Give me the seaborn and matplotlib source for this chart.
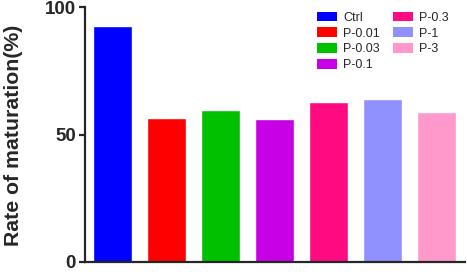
import matplotlib
matplotlib.use("Agg")
import matplotlib.pyplot as plt
import seaborn as sns
import pandas as pd
from matplotlib.patches import Patch

categories = ["Ctrl", "P-0.01", "P-0.03", "P-0.1", "P-0.3", "P-1", "P-3"]
values = [92.5, 56.4, 59.6, 56.1, 62.9, 63.9, 58.7]
colors = ["#0000FF", "#FF0000", "#00C000", "#C800E6", "#FF0A80", "#9090FF", "#FF99CC"]
yticks = [0, 50, 100]

sns.set_style("ticks")
plt.rcParams['font.family'] = ['Liberation Sans', 'DejaVu Sans']
plt.rcParams['font.weight'] = 'bold'

df = pd.DataFrame({"group": categories, "value": values})

fig = plt.figure(figsize=(4.67, 2.72), dpi=100)
ax = fig.add_axes([0.182, 0.037, 0.814, 0.937])
sns.barplot(data=df, x="group", y="value", hue="group", palette=colors,
            width=0.72, legend=False, ax=ax, saturation=1)

ax.set_xlim(-0.51, 6.53)
ax.set_ylim(0, 100)
ax.set_yticks(yticks)
ax.set_yticklabels([str(t) for t in yticks], fontsize=13.5, fontweight='bold')
ax.set_xticks([])
ax.set_xlabel("")
ax.set_ylabel("Rate of maturation(%)", fontsize=15.3, fontweight='bold')
ax.yaxis.set_label_coords(-0.163, 0.495)
for s in ["top", "right"]:
    ax.spines[s].set_visible(False)
for s in ["left", "bottom"]:
    ax.spines[s].set_linewidth(1.6)
ax.tick_params(axis='y', length=4, width=1.6, pad=2.5)

handles = [Patch(facecolor=c, edgecolor='none', label=l) for c, l in zip(colors, categories)]
leg = ax.legend(handles=handles, ncol=2, loc="upper left",
                bbox_to_anchor=(317 / 467, (272 - 11.5) / 272), bbox_transform=fig.transFigure,
                frameon=False, prop={'size': 9, 'weight': 'normal'},
                handlelength=1.6, handleheight=0.85, handletextpad=0.5,
                columnspacing=1.0, labelspacing=0.28, borderaxespad=0, borderpad=0)

fig.savefig("out.png", dpi=100)
